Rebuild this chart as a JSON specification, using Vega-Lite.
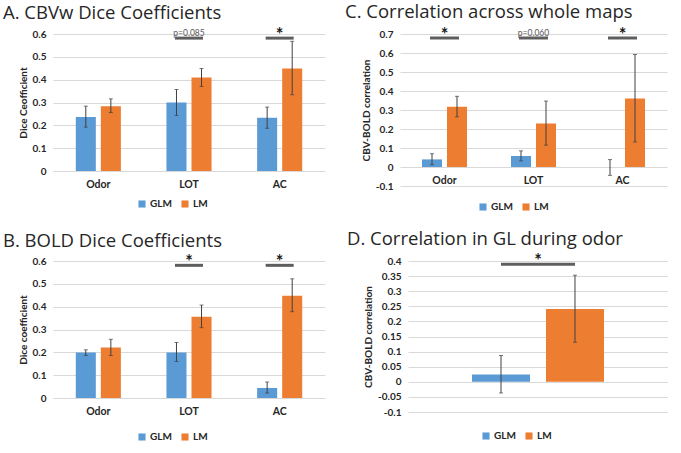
{
  "$schema": "https://vega.github.io/schema/vega-lite/v6.json",
  "padding": {"left": 3, "top": 3, "right": 0, "bottom": 0},
  "background": "white",
  "datasets": {
    "A": [
      {"cat": "Odor", "grp": "GLM", "val": 0.236, "lo": 0.192, "hi": 0.284},
      {"cat": "Odor", "grp": "LM", "val": 0.284, "lo": 0.256, "hi": 0.316},
      {"cat": "LOT", "grp": "GLM", "val": 0.300, "lo": 0.243, "hi": 0.357},
      {"cat": "LOT", "grp": "LM", "val": 0.410, "lo": 0.370, "hi": 0.449},
      {"cat": "AC", "grp": "GLM", "val": 0.233, "lo": 0.187, "hi": 0.280},
      {"cat": "AC", "grp": "LM", "val": 0.449, "lo": 0.334, "hi": 0.568}
    ],
    "sigA": [
      {"cat": "LOT", "line": 0.582, "label": "p=0.085", "kind": "p"},
      {"cat": "AC", "line": 0.582, "label": "*", "kind": "star"}
    ],
    "B": [
      {"cat": "Odor", "grp": "GLM", "val": 0.199, "lo": 0.186, "hi": 0.211},
      {"cat": "Odor", "grp": "LM", "val": 0.221, "lo": 0.186, "hi": 0.257},
      {"cat": "LOT", "grp": "GLM", "val": 0.199, "lo": 0.160, "hi": 0.243},
      {"cat": "LOT", "grp": "LM", "val": 0.356, "lo": 0.308, "hi": 0.407},
      {"cat": "AC", "grp": "GLM", "val": 0.044, "lo": 0.022, "hi": 0.070},
      {"cat": "AC", "grp": "LM", "val": 0.448, "lo": 0.378, "hi": 0.522}
    ],
    "sigB": [
      {"cat": "LOT", "line": 0.581, "label": "*", "kind": "star"},
      {"cat": "AC", "line": 0.581, "label": "*", "kind": "star"}
    ],
    "C": [
      {"cat": "Odor", "grp": "GLM", "val": 0.040, "lo": 0.012, "hi": 0.070},
      {"cat": "Odor", "grp": "LM", "val": 0.317, "lo": 0.264, "hi": 0.372},
      {"cat": "LOT", "grp": "GLM", "val": 0.058, "lo": 0.032, "hi": 0.085},
      {"cat": "LOT", "grp": "LM", "val": 0.229, "lo": 0.115, "hi": 0.347},
      {"cat": "AC", "grp": "GLM", "val": 0.0, "lo": -0.044, "hi": 0.039},
      {"cat": "AC", "grp": "LM", "val": 0.361, "lo": 0.132, "hi": 0.592}
    ],
    "sigC": [
      {"cat": "Odor", "line": 0.679, "label": "*", "kind": "star"},
      {"cat": "LOT", "line": 0.679, "label": "p=0.060", "kind": "p"},
      {"cat": "AC", "line": 0.679, "label": "*", "kind": "star"}
    ],
    "D": [
      {"cat": "GL", "grp": "GLM", "val": 0.024, "lo": -0.037, "hi": 0.087},
      {"cat": "GL", "grp": "LM", "val": 0.241, "lo": 0.131, "hi": 0.353}
    ],
    "sigD": [
      {"cat": "GL", "line": 0.389, "label": "*", "kind": "star"}
    ]
  },
  "vconcat": [
    {
      "hconcat": [
        {
          "width": 272, "height": 137,
          "title": {"text": "A. CBVw Dice Coefficients", "dx": -50},
          "encoding": {
            "x": {"field": "cat", "type": "nominal", "sort": ["Odor", "LOT", "AC"], "scale": {"paddingInner": 0, "paddingOuter": 0}, "axis": {"title": null}}
          },
          "layer": [
            {
              "data": {"name": "A"},
              "mark": {"type": "bar"},
              "encoding": {
                "xOffset": {"field": "grp", "scale": {"paddingInner": 0.2, "paddingOuter": 0.91}},
                "y": {"field": "val", "type": "quantitative", "scale": {"domain": [0, 0.6]}, "axis": {"values": [0, 0.1, 0.2, 0.3, 0.4, 0.5, 0.6], "format": ".1~f", "title": "Dice Ceofficient"}},
                "color": {"field": "grp", "type": "nominal", "scale": {"domain": ["GLM", "LM"], "range": ["#5B9BD5", "#ED7D31"]}, "legend": {"legendX": 84, "legendY": 165}}
              }
            },
            {
              "data": {"name": "A"},
              "mark": {"type": "rule", "color": "#404040", "strokeWidth": 1},
              "encoding": {"xOffset": {"field": "grp"}, "y": {"field": "lo", "type": "quantitative", "axis": {"values": [0, 0.1, 0.2, 0.3, 0.4, 0.5, 0.6], "format": ".1~f", "title": "Dice Ceofficient"}}, "y2": {"field": "hi"}}
            },
            {
              "data": {"name": "A"},
              "mark": {"type": "tick", "color": "#404040", "size": 4, "thickness": 1},
              "encoding": {"xOffset": {"field": "grp"}, "y": {"field": "lo", "type": "quantitative", "axis": {"values": [0, 0.1, 0.2, 0.3, 0.4, 0.5, 0.6], "format": ".1~f", "title": "Dice Ceofficient"}}}
            },
            {
              "data": {"name": "A"},
              "mark": {"type": "tick", "color": "#404040", "size": 4, "thickness": 1},
              "encoding": {"xOffset": {"field": "grp"}, "y": {"field": "hi", "type": "quantitative", "axis": {"values": [0, 0.1, 0.2, 0.3, 0.4, 0.5, 0.6], "format": ".1~f", "title": "Dice Ceofficient"}}}
            },
            {
              "data": {"name": "sigA"},
              "mark": {"type": "tick", "color": "#1a1a1a", "size": 28, "thickness": 3},
              "encoding": {"y": {"field": "line", "type": "quantitative", "axis": {"values": [0, 0.1, 0.2, 0.3, 0.4, 0.5, 0.6], "format": ".1~f", "title": "Dice Ceofficient"}}}
            },
            {
              "data": {"name": "sigA"},
              "transform": [{"filter": "datum.kind == 'star'"}],
              "mark": {"type": "text", "font": "Lato", "fontWeight": "bold", "fontSize": 18, "color": "#1a1a1a", "baseline": "alphabetic", "dy": 3},
              "encoding": {"y": {"field": "line", "type": "quantitative", "axis": {"values": [0, 0.1, 0.2, 0.3, 0.4, 0.5, 0.6], "format": ".1~f", "title": "Dice Ceofficient"}}, "text": {"field": "label"}}
            },
            {
              "data": {"name": "sigA"},
              "transform": [{"filter": "datum.kind == 'p'"}],
              "mark": {"type": "text", "font": "Lato", "fontSize": 8.5, "color": "#595959", "baseline": "alphabetic", "dy": -2},
              "encoding": {"y": {"field": "line", "type": "quantitative", "axis": {"values": [0, 0.1, 0.2, 0.3, 0.4, 0.5, 0.6], "format": ".1~f", "title": "Dice Ceofficient"}}, "text": {"field": "label"}}
            }
          ]
        },
        {
          "width": 267, "height": 152,
          "title": {"text": "C. Correlation across whole maps", "dx": -55},
          "encoding": {
            "x": {"field": "cat", "type": "nominal", "sort": ["Odor", "LOT", "AC"], "scale": {"paddingInner": 0, "paddingOuter": 0}, "axis": {"title": null, "offset": -19}}
          },
          "layer": [
            {
              "data": {"name": "C"},
              "mark": {"type": "bar"},
              "encoding": {
                "xOffset": {"field": "grp", "scale": {"paddingInner": 0.2, "paddingOuter": 0.88}},
                "y": {"field": "val", "type": "quantitative", "scale": {"domain": [-0.1, 0.7]}, "axis": {"values": [-0.1, 0, 0.1, 0.2, 0.3, 0.4, 0.5, 0.6, 0.7], "format": ".1~f", "labelExpr": "replace(datum.label, '\u2212', '-')", "title": "CBV-BOLD correlation"}},
                "color": {"field": "grp", "type": "nominal", "scale": {"domain": ["GLM", "LM"], "range": ["#5B9BD5", "#ED7D31"]}, "legend": {"legendX": 78, "legendY": 168}}
              }
            },
            {
              "data": {"name": "C"},
              "mark": {"type": "rule", "color": "#404040", "strokeWidth": 1},
              "encoding": {"xOffset": {"field": "grp"}, "y": {"field": "lo", "type": "quantitative", "axis": {"values": [-0.1, 0, 0.1, 0.2, 0.3, 0.4, 0.5, 0.6, 0.7], "format": ".1~f", "labelExpr": "replace(datum.label, '\u2212', '-')", "title": "CBV-BOLD correlation"}}, "y2": {"field": "hi"}}
            },
            {
              "data": {"name": "C"},
              "mark": {"type": "tick", "color": "#404040", "size": 4, "thickness": 1},
              "encoding": {"xOffset": {"field": "grp"}, "y": {"field": "lo", "type": "quantitative", "axis": {"values": [-0.1, 0, 0.1, 0.2, 0.3, 0.4, 0.5, 0.6, 0.7], "format": ".1~f", "labelExpr": "replace(datum.label, '\u2212', '-')", "title": "CBV-BOLD correlation"}}}
            },
            {
              "data": {"name": "C"},
              "mark": {"type": "tick", "color": "#404040", "size": 4, "thickness": 1},
              "encoding": {"xOffset": {"field": "grp"}, "y": {"field": "hi", "type": "quantitative", "axis": {"values": [-0.1, 0, 0.1, 0.2, 0.3, 0.4, 0.5, 0.6, 0.7], "format": ".1~f", "labelExpr": "replace(datum.label, '\u2212', '-')", "title": "CBV-BOLD correlation"}}}
            },
            {
              "data": {"name": "sigC"},
              "mark": {"type": "tick", "color": "#1a1a1a", "size": 29, "thickness": 3},
              "encoding": {"y": {"field": "line", "type": "quantitative", "axis": {"values": [-0.1, 0, 0.1, 0.2, 0.3, 0.4, 0.5, 0.6, 0.7], "format": ".1~f", "labelExpr": "replace(datum.label, '\u2212', '-')", "title": "CBV-BOLD correlation"}}}
            },
            {
              "data": {"name": "sigC"},
              "transform": [{"filter": "datum.kind == 'star'"}],
              "mark": {"type": "text", "font": "Lato", "fontWeight": "bold", "fontSize": 18, "color": "#1a1a1a", "baseline": "alphabetic", "dy": 3},
              "encoding": {"y": {"field": "line", "type": "quantitative", "axis": {"values": [-0.1, 0, 0.1, 0.2, 0.3, 0.4, 0.5, 0.6, 0.7], "format": ".1~f", "labelExpr": "replace(datum.label, '\u2212', '-')", "title": "CBV-BOLD correlation"}}, "text": {"field": "label"}}
            },
            {
              "data": {"name": "sigC"},
              "transform": [{"filter": "datum.kind == 'p'"}],
              "mark": {"type": "text", "font": "Lato", "fontSize": 8.5, "color": "#595959", "baseline": "alphabetic", "dy": -2},
              "encoding": {"y": {"field": "line", "type": "quantitative", "axis": {"values": [-0.1, 0, 0.1, 0.2, 0.3, 0.4, 0.5, 0.6, 0.7], "format": ".1~f", "labelExpr": "replace(datum.label, '\u2212', '-')", "title": "CBV-BOLD correlation"}}, "text": {"field": "label"}}
            }
          ]
        }
      ],
      "spacing": 75,
      "bounds": "flush",
      "resolve": {"scale": {"color": "independent", "x": "independent", "y": "independent", "xOffset": "independent"}, "legend": {"color": "independent"}}
    },
    {
      "hconcat": [
        {
          "width": 272, "height": 137,
          "title": {"text": "B. BOLD Dice Coefficients", "dx": -50, "offset": 4},
          "encoding": {
            "x": {"field": "cat", "type": "nominal", "sort": ["Odor", "LOT", "AC"], "scale": {"paddingInner": 0, "paddingOuter": 0}, "axis": {"title": null}}
          },
          "layer": [
            {
              "data": {"name": "B"},
              "mark": {"type": "bar"},
              "encoding": {
                "xOffset": {"field": "grp", "scale": {"paddingInner": 0.2, "paddingOuter": 0.91}},
                "y": {"field": "val", "type": "quantitative", "scale": {"domain": [0, 0.6]}, "axis": {"values": [0, 0.1, 0.2, 0.3, 0.4, 0.5, 0.6], "format": ".1~f", "title": "Dice coefficient"}},
                "color": {"field": "grp", "type": "nominal", "scale": {"domain": ["GLM", "LM"], "range": ["#5B9BD5", "#ED7D31"]}, "legend": {"legendX": 84, "legendY": 171}}
              }
            },
            {
              "data": {"name": "B"},
              "mark": {"type": "rule", "color": "#404040", "strokeWidth": 1},
              "encoding": {"xOffset": {"field": "grp"}, "y": {"field": "lo", "type": "quantitative", "axis": {"values": [0, 0.1, 0.2, 0.3, 0.4, 0.5, 0.6], "format": ".1~f", "title": "Dice coefficient"}}, "y2": {"field": "hi"}}
            },
            {
              "data": {"name": "B"},
              "mark": {"type": "tick", "color": "#404040", "size": 4, "thickness": 1},
              "encoding": {"xOffset": {"field": "grp"}, "y": {"field": "lo", "type": "quantitative", "axis": {"values": [0, 0.1, 0.2, 0.3, 0.4, 0.5, 0.6], "format": ".1~f", "title": "Dice coefficient"}}}
            },
            {
              "data": {"name": "B"},
              "mark": {"type": "tick", "color": "#404040", "size": 4, "thickness": 1},
              "encoding": {"xOffset": {"field": "grp"}, "y": {"field": "hi", "type": "quantitative", "axis": {"values": [0, 0.1, 0.2, 0.3, 0.4, 0.5, 0.6], "format": ".1~f", "title": "Dice coefficient"}}}
            },
            {
              "data": {"name": "sigB"},
              "mark": {"type": "tick", "color": "#1a1a1a", "size": 28, "thickness": 3},
              "encoding": {"y": {"field": "line", "type": "quantitative", "axis": {"values": [0, 0.1, 0.2, 0.3, 0.4, 0.5, 0.6], "format": ".1~f", "title": "Dice coefficient"}}}
            },
            {
              "data": {"name": "sigB"},
              "mark": {"type": "text", "font": "Lato", "fontWeight": "bold", "fontSize": 18, "color": "#1a1a1a", "baseline": "alphabetic", "dy": 3},
              "encoding": {"y": {"field": "line", "type": "quantitative", "axis": {"values": [0, 0.1, 0.2, 0.3, 0.4, 0.5, 0.6], "format": ".1~f", "title": "Dice coefficient"}}, "text": {"field": "label"}}
            }
          ]
        },
        {
          "width": 260, "height": 151,
          "title": {"text": "D. Correlation in GL during odor", "dx": -61},
          "encoding": {
            "x": {"field": "cat", "type": "nominal", "scale": {"paddingInner": 0, "paddingOuter": 0}, "axis": null}
          },
          "layer": [
            {
              "data": {"name": "D"},
              "mark": {"type": "bar"},
              "encoding": {
                "xOffset": {"field": "grp", "scale": {"paddingInner": 0.216, "paddingOuter": 0.865}},
                "y": {"field": "val", "type": "quantitative", "scale": {"domain": [-0.1, 0.4]}, "axis": {"values": [-0.1, -0.05, 0, 0.05, 0.1, 0.15, 0.2, 0.25, 0.3, 0.35, 0.4], "format": ".2~f", "labelExpr": "replace(datum.label, '\u2212', '-')", "title": "CBV-BOLD correlation"}},
                "color": {"field": "grp", "type": "nominal", "scale": {"domain": ["GLM", "LM"], "range": ["#5B9BD5", "#ED7D31"]}, "legend": {"legendX": 73, "legendY": 170}}
              }
            },
            {
              "data": {"name": "D"},
              "mark": {"type": "rule", "color": "#404040", "strokeWidth": 1},
              "encoding": {"xOffset": {"field": "grp"}, "y": {"field": "lo", "type": "quantitative", "axis": {"values": [-0.1, -0.05, 0, 0.05, 0.1, 0.15, 0.2, 0.25, 0.3, 0.35, 0.4], "format": ".2~f", "labelExpr": "replace(datum.label, '\u2212', '-')", "title": "CBV-BOLD correlation"}}, "y2": {"field": "hi"}}
            },
            {
              "data": {"name": "D"},
              "mark": {"type": "tick", "color": "#404040", "size": 4, "thickness": 1},
              "encoding": {"xOffset": {"field": "grp"}, "y": {"field": "lo", "type": "quantitative", "axis": {"values": [-0.1, -0.05, 0, 0.05, 0.1, 0.15, 0.2, 0.25, 0.3, 0.35, 0.4], "format": ".2~f", "labelExpr": "replace(datum.label, '\u2212', '-')", "title": "CBV-BOLD correlation"}}}
            },
            {
              "data": {"name": "D"},
              "mark": {"type": "tick", "color": "#404040", "size": 4, "thickness": 1},
              "encoding": {"xOffset": {"field": "grp"}, "y": {"field": "hi", "type": "quantitative", "axis": {"values": [-0.1, -0.05, 0, 0.05, 0.1, 0.15, 0.2, 0.25, 0.3, 0.35, 0.4], "format": ".2~f", "labelExpr": "replace(datum.label, '\u2212', '-')", "title": "CBV-BOLD correlation"}}}
            },
            {
              "data": {"name": "sigD"},
              "mark": {"type": "tick", "color": "#1a1a1a", "size": 74, "thickness": 3},
              "encoding": {"y": {"field": "line", "type": "quantitative", "axis": {"values": [-0.1, -0.05, 0, 0.05, 0.1, 0.15, 0.2, 0.25, 0.3, 0.35, 0.4], "format": ".2~f", "labelExpr": "replace(datum.label, '\u2212', '-')", "title": "CBV-BOLD correlation"}}}
            },
            {
              "data": {"name": "sigD"},
              "mark": {"type": "text", "font": "Lato", "fontWeight": "bold", "fontSize": 18, "color": "#1a1a1a", "baseline": "alphabetic", "dy": 3},
              "encoding": {"y": {"field": "line", "type": "quantitative", "axis": {"values": [-0.1, -0.05, 0, 0.05, 0.1, 0.15, 0.2, 0.25, 0.3, 0.35, 0.4], "format": ".2~f", "labelExpr": "replace(datum.label, '\u2212', '-')", "title": "CBV-BOLD correlation"}}, "text": {"field": "label"}}
            }
          ]
        }
      ],
      "spacing": 83,
      "bounds": "flush",
      "resolve": {"scale": {"color": "independent", "x": "independent", "y": "independent", "xOffset": "independent"}, "legend": {"color": "independent"}}
    }
  ],
  "spacing": 17,
  "bounds": "full",
  "resolve": {"scale": {"color": "independent", "x": "independent", "y": "independent", "xOffset": "independent"}, "legend": {"color": "independent"}},
  "config": {
    "view": {"stroke": null},
    "font": "Lato",
    "axis": {"domain": false, "ticks": false, "labelFont": "Lato", "labelFontWeight": "bold", "labelFontSize": 10, "labelColor": "#262626", "titleFont": "Lato", "titleFontWeight": "bold", "titleFontSize": 10, "titleColor": "#262626", "gridColor": "#d9d9d9", "gridWidth": 1},
    "axisX": {"grid": false, "labelAngle": 0, "labelPadding": 8, "labelFontSize": 10.5},
    "axisY": {"labelPadding": 7, "titlePadding": 4, "labelOverlap": false},
    "legend": {"orient": "none", "direction": "horizontal", "title": null, "symbolType": "square", "symbolSize": 50, "symbolStrokeWidth": 0, "labelFont": "Lato", "labelFontWeight": "bold", "labelFontSize": 10, "labelColor": "#262626", "columnPadding": 8, "labelOffset": 3, "padding": 0},
    "title": {"font": "Open Sans", "fontSize": 18.5, "fontWeight": "normal", "color": "#262626", "anchor": "start", "frame": "group", "baseline": "alphabetic", "offset": 5}
  }
}
